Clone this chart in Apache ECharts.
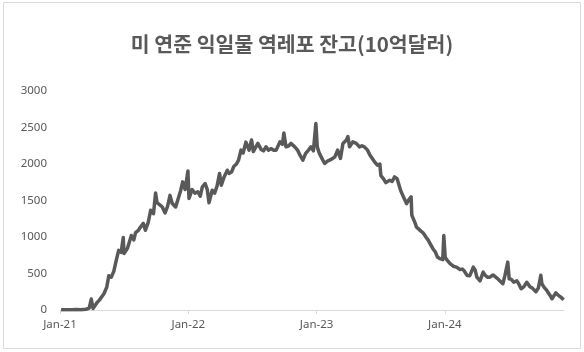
<!DOCTYPE html>
<html>
<head>
<meta charset="utf-8">
<script src="https://cdn.jsdelivr.net/npm/echarts@6/dist/echarts.min.js"></script>
<style>
  html, body { margin: 0; padding: 0; background: #fff; }
  #main { width: 584px; height: 352px; }
</style>
</head>
<body>
<div id="main"></div>
<script>
// 미 연준 익일물 역레포 잔고 (billions USD)
const dates = [
  "2021-01-04","2021-01-19","2021-02-02","2021-02-17","2021-03-02","2021-03-16","2021-03-25","2021-03-31",
  "2021-04-05","2021-04-16","2021-04-23","2021-05-06","2021-05-14","2021-05-20","2021-05-27","2021-06-03",
  "2021-06-11","2021-06-17","2021-06-24","2021-06-30","2021-07-02","2021-07-12","2021-07-23","2021-07-30",
  "2021-08-04","2021-08-12","2021-08-18","2021-08-26","2021-09-01","2021-09-09","2021-09-16","2021-09-24",
  "2021-09-30","2021-10-04","2021-10-12","2021-10-19","2021-10-27","2021-11-03","2021-11-10","2021-11-16",
  "2021-11-26","2021-12-03","2021-12-10","2021-12-16","2021-12-23","2021-12-31",
  "2022-01-03","2022-01-12","2022-01-20","2022-01-28","2022-02-04","2022-02-10","2022-02-18","2022-02-24",
  "2022-03-01","2022-03-10","2022-03-17","2022-03-24","2022-03-31","2022-04-05","2022-04-13","2022-04-22",
  "2022-04-27","2022-05-04","2022-05-11","2022-05-18","2022-05-24","2022-05-31","2022-06-06","2022-06-14",
  "2022-06-23","2022-06-30","2022-07-05","2022-07-12","2022-07-18","2022-07-27","2022-08-03","2022-08-10",
  "2022-08-17","2022-08-24","2022-09-01","2022-09-08","2022-09-19","2022-09-26","2022-09-30","2022-10-06",
  "2022-10-14","2022-10-20","2022-10-31","2022-11-08","2022-11-16","2022-11-23","2022-12-01","2022-12-09",
  "2022-12-16","2022-12-23","2022-12-30",
  "2023-01-03","2023-01-09","2023-01-17","2023-01-24","2023-02-01","2023-02-07","2023-02-14","2023-02-22",
  "2023-03-02","2023-03-10","2023-03-17","2023-03-27","2023-03-31","2023-04-05","2023-04-14","2023-04-24",
  "2023-05-03","2023-05-10","2023-05-17","2023-05-26","2023-06-02","2023-06-07","2023-06-15","2023-06-23",
  "2023-06-30","2023-07-03","2023-07-10","2023-07-17","2023-07-28","2023-08-04","2023-08-11","2023-08-18",
  "2023-08-23","2023-08-28","2023-09-01","2023-09-08","2023-09-14","2023-09-22","2023-09-27","2023-09-29",
  "2023-10-02","2023-10-09","2023-10-12","2023-10-17","2023-10-25","2023-10-31","2023-11-08","2023-11-15",
  "2023-11-20","2023-11-28","2023-12-05","2023-12-11","2023-12-18","2023-12-26","2023-12-29",
  "2024-01-02","2024-01-08","2024-01-16","2024-01-25","2024-02-03","2024-02-13","2024-02-20","2024-02-26",
  "2024-03-04","2024-03-12","2024-03-22","2024-03-27","2024-04-01","2024-04-10","2024-04-15","2024-04-19",
  "2024-04-24","2024-05-01","2024-05-08","2024-05-17","2024-05-22","2024-05-30","2024-06-05","2024-06-14",
  "2024-06-20","2024-06-28","2024-07-02","2024-07-08","2024-07-15","2024-07-24","2024-07-29","2024-08-05",
  "2024-08-13","2024-08-21","2024-08-30","2024-09-06","2024-09-16","2024-09-23","2024-09-30","2024-10-03",
  "2024-10-09","2024-10-17","2024-10-25","2024-11-01","2024-11-07","2024-11-12","2024-11-19","2024-11-26",
  "2024-12-04"
];
const values = [
  5,2,3,6,4,10,25,150,
  20,100,135,222,313,470,450,530,
  700,817,790,992,775,845,1020,960,
  1060,1090,1137,1187,1092,1200,1366,1320,
  1604,1470,1440,1411,1330,1420,1570,1462,
  1411,1520,1630,1755,1650,1905,
  1527,1650,1600,1620,1560,1686,1733,1650,
  1470,1641,1600,1700,1871,1709,1823,1915,
  1870,1890,1970,2000,2053,2190,2150,2300,
  2190,2329,2170,2230,2282,2200,2180,2235,
  2190,2210,2190,2190,2304,2270,2426,2235,
  2250,2282,2235,2190,2110,2053,2145,2190,
  2235,2180,2554,
  2235,2145,2070,2007,2040,2053,2070,2098,
  2190,2076,2282,2330,2375,2235,2304,2282,
  2235,2250,2235,2190,2120,2098,2030,1984,
  2000,1840,1800,1745,1778,1760,1823,1800,
  1778,1640,1595,1520,1458,1520,1549,1300,
  1321,1184,1137,1115,1080,1057,1000,954,
  909,840,794,725,703,690,1019,
  720,680,634,600,588,555,560,530,
  474,470,588,550,450,400,380,519,
  480,450,450,480,497,430,400,360,
  474,656,428,420,382,400,360,291,
  320,380,320,300,250,300,475,360,
  313,268,210,154,200,235,200,176,
  140
];
const yTicks = [0, 500, 1000, 1500, 2000, 2500, 3000];
const titleText = "미 연준 익일물 역레포 잔고(10억달러)";

const grey = "#595959";
const chart = echarts.init(document.getElementById("main"), null, { renderer: "canvas" });

chart.setOption({
  animation: false,
  backgroundColor: "#fff",
  title: {
    text: titleText,
    left: "center",
    top: 29,
    textStyle: {
      color: grey,
      fontSize: 20.5,
      fontWeight: "bold",
      fontFamily: "'Noto Sans CJK KR', 'Noto Sans', sans-serif"
    }
  },
  graphic: [{
    type: "rect",
    shape: { x: 3.5, y: 2.5, width: 577, height: 346 },
    style: { fill: "none", stroke: "#d9d9d9", lineWidth: 1 },
    silent: true
  }],
  grid: { left: 60, right: 20, top: 91, bottom: 42 },
  xAxis: {
    type: "time",
    min: "2021-01-01",
    max: "2024-12-05",
    minInterval: 365 * 86400000,
    maxInterval: 366 * 86400000,
    axisLine: { lineStyle: { color: "#d9d9d9", width: 1 } },
    axisTick: { show: true, length: 4, lineStyle: { color: "#d9d9d9" } },
    splitLine: { show: false },
    axisLabel: {
      color: grey,
      fontSize: 11.5,
      margin: 9,
      fontFamily: "'Noto Sans', sans-serif",
      formatter: function (v) {
        const d = new Date(v);
        if (d.getMonth() !== 0) return "";
        return "Jan-" + String(d.getFullYear()).slice(2);
      }
    }
  },
  yAxis: {
    type: "value",
    min: yTicks[0],
    max: yTicks[yTicks.length - 1],
    interval: 500,
    axisLine: { show: false },
    axisTick: { show: false },
    splitLine: { show: false },
    axisLabel: {
      color: grey,
      fontSize: 11.5,
      margin: 13,
      fontFamily: "'Noto Sans', sans-serif",
      formatter: function (v) { return String(v); }
    }
  },
  series: [{
    type: "line",
    data: dates.map((d, i) => [d, values[i]]),
    showSymbol: false,
    lineStyle: { color: grey, width: 3.5, join: "round" },
    itemStyle: { color: grey }
  }]
});
</script>
</body>
</html>
